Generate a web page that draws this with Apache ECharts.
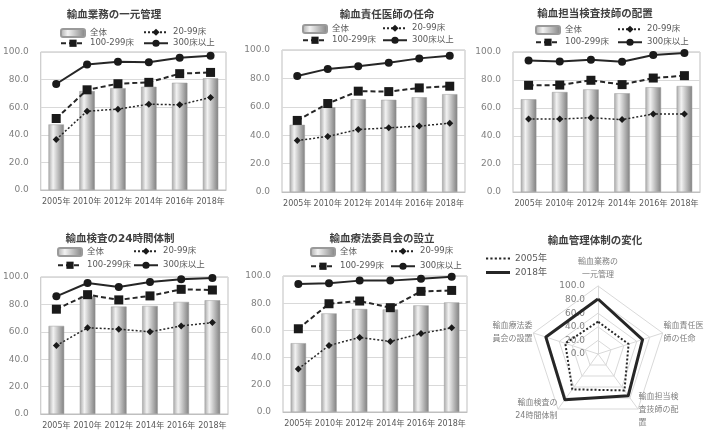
<!DOCTYPE html>
<html>
<head>
<meta charset="utf-8">
<script src="https://cdn.jsdelivr.net/npm/echarts@6/dist/echarts.min.js"></script>
<style>
html,body{margin:0;padding:0;background:#fff;}
#main{width:705px;height:436px;}
</style>
</head>
<body>
<div id="main"></div>
<script>
// 年次
var years = ['2005年', '2010年', '2012年', '2014年', '2016年', '2018年'];
var seriesNames = ['全体', '20-99床', '100-299床', '300床以上'];

// 輸血業務の一元管理
var c1All = [47.5, 71.7, 73.8, 74.8, 77.7, 80.9];
var c1Small = [36.6, 57.1, 58.6, 62.2, 61.7, 67.1];
var c1Mid = [51.8, 72.6, 77.0, 78.0, 84.3, 85.2];
var c1Large = [76.8, 91.0, 93.0, 92.5, 95.9, 97.3];

// 輸血責任医師の任命
var c2All = [47.3, 59.7, 65.3, 64.9, 66.7, 68.9];
var c2Small = [36.3, 39.1, 44.0, 45.2, 46.4, 48.5];
var c2Mid = [50.4, 62.3, 71.0, 70.7, 73.3, 74.5];
var c2Large = [81.7, 86.7, 88.5, 91.1, 94.1, 96.0];

// 輸血担当検査技師の配置
var c3All = [66.2, 71.4, 73.3, 70.5, 74.8, 75.7];
var c3Small = [52.1, 52.1, 53.1, 51.7, 55.7, 55.7];
var c3Mid = [76.2, 76.4, 79.8, 76.7, 81.4, 83.1];
var c3Large = [94.0, 93.3, 94.5, 93.1, 97.9, 99.3];

// 輸血検査の24時間体制
var c4All = [64.3, 86.0, 78.4, 78.9, 81.8, 83.0];
var c4Small = [50.0, 62.9, 61.9, 60.0, 64.3, 66.7];
var c4Mid = [76.5, 87.1, 83.3, 86.2, 91.0, 90.5];
var c4Large = [85.9, 95.6, 92.7, 96.4, 98.3, 99.3];

// 輸血療法委員会の設立
var c5All = [50.6, 72.5, 75.7, 75.4, 78.4, 80.6];
var c5Small = [31.7, 48.9, 54.8, 51.8, 57.7, 61.9];
var c5Mid = [61.2, 79.6, 81.6, 76.7, 88.7, 89.4];
var c5Large = [94.1, 94.6, 96.6, 96.6, 98.0, 99.5];

// レーダー（全体）：上から時計回り
var radarNames = ['輸血業務の\n一元管理', '輸血責任医\n師の任命', '輸血担当検\n査技師の配\n置', '輸血検査の\n24時間体制', '輸血療法委\n員会の設置'];
var radar2005 = [47.5, 47.3, 66.2, 64.3, 50.6];
var radar2018 = [80.9, 68.9, 75.7, 83.0, 80.6];

var FONT = '"DejaVu Sans", "Noto Sans CJK JP", sans-serif';
var TXT = '#595959';

var panels = [
	{title: '輸血業務の一元管理', tx: 109, ty: 5, grid: [40, 52, 186, 138], lg: [55, 138, 23, 34], data: [c1All, c1Small, c1Mid, c1Large]},
	{title: '輸血責任医師の任命', tx: 382, ty: 5, grid: [282, 50, 183, 142], lg: [297, 377, 19, 31], data: [c2All, c2Small, c2Mid, c2Large]},
	{title: '輸血担当検査技師の配置', tx: 590, ty: 4, grid: [513, 52, 187, 140], lg: [530, 612, 20, 33], data: [c3All, c3Small, c3Mid, c3Large]},
	{title: '輸血検査の24時間体制', tx: 115, ty: 229, grid: [40, 277, 188, 137], lg: [52, 128, 242, 256], data: [c4All, c4Small, c4Mid, c4Large]},
	{title: '輸血療法委員会の設立', tx: 377, ty: 229, grid: [283, 276, 184, 136], lg: [305, 385, 242, 257], data: [c5All, c5Small, c5Mid, c5Large]}
];

var barGrad = new echarts.graphic.LinearGradient(0, 0, 1, 0, [
	{offset: 0, color: '#a9a9a9'},
	{offset: 0.3, color: '#f2f2f2'},
	{offset: 1, color: '#808080'}
]);

var lineStyles = [
	null,
	{type: [2, 2], width: 1.5, symbol: 'diamond', size: 7},
	{type: [5, 3], width: 2, symbol: 'rect', size: 9},
	{type: 'solid', width: 2, symbol: 'circle', size: 8}
];

var option = {
	animation: false,
	textStyle: {fontFamily: FONT},
	title: [],
	legend: [],
	grid: [],
	xAxis: [],
	yAxis: [],
	series: []
};

panels.forEach(function(p, i) {
	option.title.push({
		text: p.title, left: p.tx, top: p.ty, textAlign: 'center',
		textStyle: {fontSize: 10.5, fontWeight: 'bold', color: '#404040', fontFamily: FONT}
	});
	option.grid.push({
		left: p.grid[0], top: p.grid[1], width: p.grid[2], height: p.grid[3],
		show: true, borderColor: '#bfbfbf', borderWidth: 1, containLabel: false
	});
	option.xAxis.push({
		type: 'category', gridIndex: i, data: years,
		axisLine: {lineStyle: {color: '#bfbfbf'}},
		axisTick: {show: false},
		axisLabel: {color: TXT, fontSize: 8, interval: 0, margin: 8, fontFamily: FONT}
	});
	option.yAxis.push({
		type: 'value', gridIndex: i, min: 0, max: 100, interval: 20,
		axisLine: {show: false},
		axisTick: {show: false},
		splitLine: {lineStyle: {color: '#d9d9d9'}},
		axisLabel: {color: '#7f7f7f', fontSize: 9, margin: 12, fontFamily: FONT,
			formatter: function(v) { return v.toFixed(1); }}
	});
	// 凡例（各項目を個別に配置）
	var pos = [[p.lg[0], p.lg[2]], [p.lg[1], p.lg[2]], [p.lg[0], p.lg[3]], [p.lg[1], p.lg[3]]];
	seriesNames.forEach(function(n, k) {
		option.legend.push({
			data: [n], left: pos[k][0], top: pos[k][1],
			itemWidth: 24, itemHeight: k === 0 ? 8 : 9, itemGap: 0,
			textStyle: {color: TXT, fontSize: 8.5, fontFamily: FONT},
			selectedMode: false
		});
	});
	option.series.push({
		name: seriesNames[0], type: 'bar', xAxisIndex: i, yAxisIndex: i,
		data: p.data[0], barWidth: '50%',
		itemStyle: {color: barGrad, borderColor: '#9a9a9a', borderWidth: 0.5}
	});
	for (var k = 1; k < 4; k++) {
		var s = lineStyles[k];
		option.series.push({
			name: seriesNames[k], type: 'line', xAxisIndex: i, yAxisIndex: i,
			data: p.data[k], symbol: s.symbol, symbolSize: s.size,
			lineStyle: {color: '#262626', width: s.width, type: s.type},
			itemStyle: {color: '#1a1a1a'},
			z: 3 + k
		});
	}
});

// レーダーチャート（ECharts は反時計回りなので並びを入れ替える）
var cw = [0, 4, 3, 2, 1];
function clockwise(arr) { return cw.map(function(j) { return arr[j]; }); }

option.title.push({
	text: '輸血管理体制の変化', left: 590, top: 231, textAlign: 'center',
	textStyle: {fontSize: 10.5, fontWeight: 'bold', color: '#404040', fontFamily: FONT}
});
option.legend.push({
	data: ['2005年'], left: 481, top: 249, itemWidth: 24, itemHeight: 3, icon: 'path://M0,0h2v2h-2zM4,0h2v2h-2zM8,0h2v2h-2zM12,0h2v2h-2zM16,0h2v2h-2zM20,0h2v2h-2z',
	textStyle: {color: TXT, fontSize: 9, fontFamily: FONT}, selectedMode: false
});
option.legend.push({
	data: ['2018年'], left: 481, top: 263, itemWidth: 24, itemHeight: 3, icon: 'rect',
	textStyle: {color: TXT, fontSize: 9, fontFamily: FONT}, selectedMode: false
});
option.radar = {
	center: [598, 354], radius: 68, startAngle: 90, splitNumber: 5, shape: 'polygon',
	indicator: clockwise(radarNames).map(function(n, i) {
		var ind = {name: n, min: 0, max: 100};
		if (i === 0) ind.axisLabel = {show: true};
		return ind;
	}),
	axisName: {color: '#7f7f7f', fontSize: 8, fontFamily: FONT, lineHeight: 13},
	nameGap: 1,
	splitLine: {lineStyle: {color: '#d9d9d9'}},
	splitArea: {show: false},
	axisLine: {lineStyle: {color: '#d9d9d9'}},
	axisTick: {show: false},
	axisLabel: {show: false, color: '#7f7f7f', fontSize: 9, margin: 0, align: 'right', padding: [0, 13, 0, 0], fontFamily: FONT,
		formatter: function(v) { return v.toFixed(1); }}
};
option.series.push({
	type: 'radar', symbol: 'none',
	data: [
		{name: '2005年', value: clockwise(radar2005), lineStyle: {type: [2, 2], width: 2, color: '#262626'}, itemStyle: {color: '#262626'}},
		{name: '2018年', value: clockwise(radar2018), lineStyle: {type: 'solid', width: 3, color: '#262626'}, itemStyle: {color: '#262626'}}
	]
});

var chart = echarts.init(document.getElementById('main'));
chart.setOption(option);
</script>
</body>
</html>
